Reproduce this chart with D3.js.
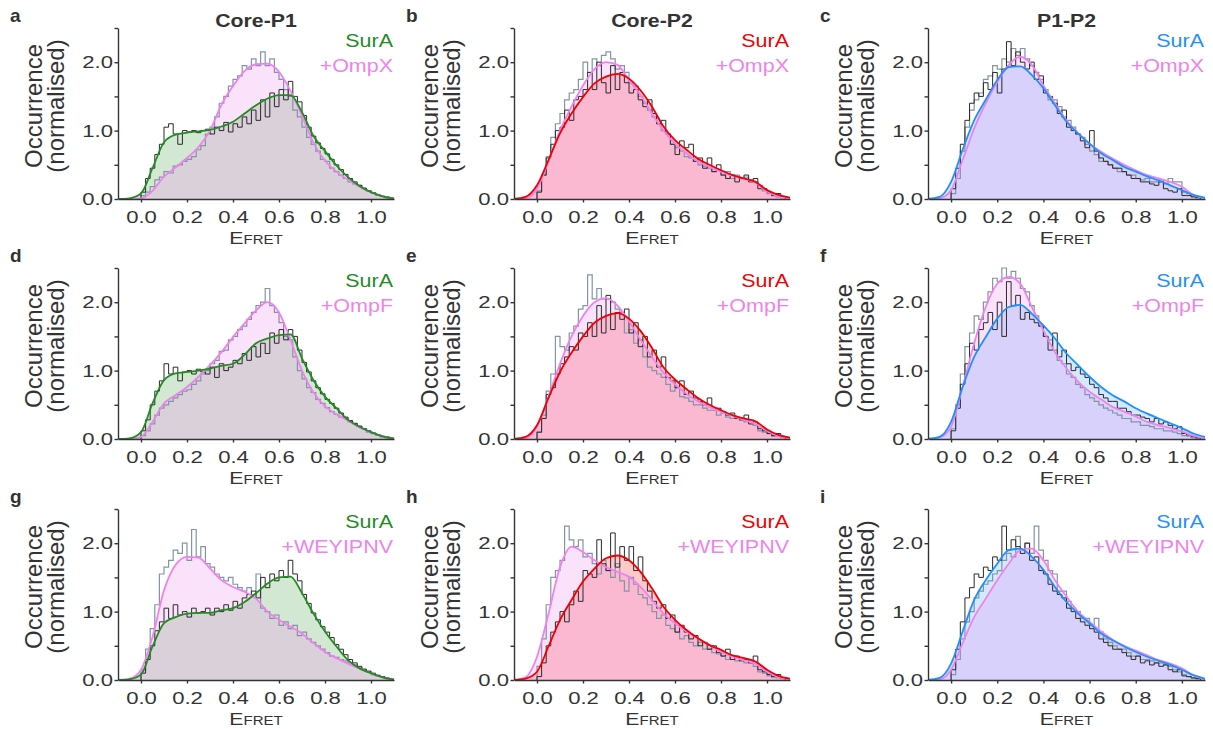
<!DOCTYPE html>
<html>
<head>
<meta charset="utf-8">
<script src="https://cdn.jsdelivr.net/npm/d3@7"></script>
<style>
  body { margin: 0; background: #fff; }
  svg { display: block; }
  text { font-family: "Liberation Sans", Arial, sans-serif; fill: #333; }
</style>
</head>
<body>
<svg width="1213" height="729"></svg>
<script>
// **** Data ****

var panelLetters = [['a', 'b', 'c'], ['d', 'e', 'f'], ['g', 'h', 'i']];
var columnTitles = ['Core-P1', 'Core-P2', 'P1-P2'];
var ligandNames = ['+OmpX', '+OmpF', '+WEYIPNV'];
var yTickValues = [0, 0.5, 1, 1.5, 2, 2.5];
var xTickValues = [0, 0.2, 0.4, 0.6, 0.8, 1.0];

// histogram bin edges (E_FRET)
var binEdges = [0.00, 0.02, 0.04, 0.06, 0.08, 0.10, 0.12, 0.14, 0.16, 0.18,
    0.20, 0.22, 0.24, 0.26, 0.28, 0.30, 0.32, 0.34, 0.36, 0.38,
    0.40, 0.42, 0.44, 0.46, 0.48, 0.50, 0.52, 0.54, 0.56, 0.58,
    0.60, 0.62, 0.64, 0.66, 0.68, 0.70, 0.72, 0.74, 0.76, 0.78,
    0.80, 0.82, 0.84, 0.86, 0.88, 0.90, 0.92, 0.94, 0.96, 0.98,
    1.00, 1.02, 1.04, 1.06, 1.08];

// x positions where the fitted curves were read
var fitX = [-0.1, -0.05, 0, 0.05, 0.1, 0.15, 0.2, 0.25, 0.3, 0.35, 0.4, 0.45, 0.5,
    0.55, 0.6, 0.65, 0.7, 0.75, 0.8, 0.85, 0.9, 0.95, 1.0, 1.05, 1.1];

// --- row 1 ---
var histA_sura = [0.1,0.3,0.45,0.65,0.8,1.05,1.1,0.95,0.8,1.0, 0.98,1.0,0.97,1.0,1.02,0.95,1.05,1.0,1.12,0.98, 1.1,1.05,1.2,1.1,1.3,1.15,1.45,1.2,1.55,1.35, 1.6,1.45,1.72,1.5,1.42,1.22,1.05,0.92,0.82,0.74, 0.66,0.58,0.5,0.43,0.36,0.3,0.25,0.2,0.16,0.12, 0.09,0.06,0.04,0.03];
var histA_lig = [0.05,0.1,0.18,0.28,0.32,0.4,0.38,0.48,0.5,0.55, 0.58,0.62,0.72,0.78,0.95,1.05,1.2,1.4,1.5,1.65, 1.75,1.8,1.95,1.9,2.05,1.95,2.15,1.95,2.05,1.85, 1.75,1.6,1.5,1.3,1.2,1.05,0.9,0.8,0.7,0.58, 0.55,0.45,0.4,0.35,0.3,0.25,0.22,0.2,0.15,0.12, 0.09,0.06,0.04,0.02];
var fitA_sura = [0,0.01,0.08,0.45,0.83,0.94,0.97,0.99,1.01,1.06,1.13,1.25,1.37,1.47,1.52,1.52,1.27,0.92,0.7,0.49,0.32,0.19,0.1,0.04,0.01];
var fitA_lig = [0,0,0.01,0.12,0.33,0.46,0.6,0.76,1.0,1.38,1.65,1.87,1.97,1.98,1.86,1.58,1.22,0.82,0.56,0.4,0.28,0.18,0.1,0.04,0.01];

var histB_sura = [0.1,0.35,0.6,0.8,1.0,1.05,1.3,1.15,1.45,1.5, 1.6,1.85,1.6,2.0,1.7,1.55,1.95,1.6,1.85,1.7, 1.55,1.6,1.45,1.35,1.45,1.25,1.1,1.15,0.95,0.8, 0.65,0.85,0.75,0.8,0.55,0.6,0.45,0.6,0.4,0.5, 0.35,0.3,0.35,0.25,0.3,0.35,0.25,0.3,0.15,0.15, 0.1,0.05,0.08,0.03];
var histB_lig = [0.12,0.35,0.62,0.9,1.1,1.25,1.45,1.55,1.6,1.75, 2.0,1.85,2.05,1.95,2.1,2.15,2.05,1.9,1.95,1.85, 1.7,1.65,1.5,1.4,1.3,1.2,1.1,1.0,0.95,0.8, 0.75,0.7,0.62,0.6,0.55,0.5,0.48,0.45,0.4,0.42, 0.35,0.4,0.3,0.35,0.3,0.32,0.28,0.25,0.2,0.12, 0.08,0.05,0.03,0.02];
var fitB_sura = [0,0.03,0.2,0.57,0.96,1.25,1.49,1.69,1.79,1.83,1.76,1.59,1.35,1.06,0.86,0.72,0.59,0.5,0.42,0.35,0.3,0.25,0.13,0.06,0.02];
var fitB_lig = [0,0.01,0.15,0.55,1.0,1.35,1.66,1.9,2.0,1.96,1.74,1.52,1.25,1.0,0.81,0.67,0.55,0.47,0.4,0.34,0.3,0.24,0.11,0.04,0.01];

var histC_sura = [0.15,0.45,0.8,1.15,1.4,1.55,1.5,1.7,1.6,1.85, 1.55,1.9,2.3,1.95,2.15,2.0,1.9,2.0,1.75,1.8, 1.55,1.5,1.4,1.25,1.3,1.05,1.0,0.95,0.85,0.75, 1.0,0.7,0.6,0.55,0.5,0.45,0.45,0.4,0.35,0.3, 0.3,0.25,0.25,0.22,0.2,0.25,0.15,0.12,0.1,0.15, 0.05,0.05,0.03,0.02];
var histC_lig = [0.08,0.3,0.7,1.05,1.3,1.45,1.55,1.75,1.8,1.95, 1.9,2.05,2.0,2.2,2.1,2.2,2.05,1.95,1.85,1.75, 1.6,1.45,1.45,1.35,1.2,1.15,1.05,0.95,0.9,0.8, 0.7,0.65,0.55,0.55,0.5,0.45,0.4,0.4,0.35,0.35, 0.3,0.28,0.3,0.25,0.25,0.28,0.22,0.3,0.25,0.25, 0.1,0.08,0.04,0.02];
var fitC_sura = [0,0.03,0.25,0.72,1.15,1.45,1.74,1.93,1.94,1.81,1.62,1.37,1.13,0.96,0.81,0.67,0.57,0.47,0.4,0.33,0.27,0.2,0.13,0.06,0.02];
var fitC_lig = [0,0.01,0.13,0.57,1.03,1.4,1.71,1.96,2.08,1.96,1.66,1.4,1.15,0.96,0.81,0.69,0.59,0.5,0.42,0.35,0.3,0.25,0.18,0.06,0.01];

// --- row 2 ---
var histD_sura = [0.12,0.28,0.5,0.7,0.85,1.1,0.95,1.05,0.85,0.98, 1.0,0.95,1.02,0.98,0.95,1.05,0.9,1.1,1.0,1.05, 1.15,1.1,1.25,1.15,1.35,1.2,1.4,1.25,1.55,1.4, 1.6,1.45,1.6,1.5,1.3,1.12,0.98,0.85,0.75,0.66, 0.58,0.52,0.45,0.38,0.32,0.27,0.23,0.19,0.15,0.12, 0.09,0.06,0.04,0.03];
var histD_lig = [0.05,0.12,0.22,0.35,0.45,0.5,0.55,0.6,0.65,0.7, 0.72,0.8,0.85,0.95,1.0,1.1,1.15,1.28,1.3,1.45, 1.5,1.6,1.65,1.75,1.85,1.95,2.0,2.2,1.95,1.85, 1.7,1.5,1.45,1.2,1.0,0.88,0.75,0.68,0.58,0.52, 0.46,0.4,0.36,0.32,0.3,0.25,0.22,0.18,0.15,0.1, 0.08,0.06,0.03,0.02];
var fitD_sura = [0,0.01,0.1,0.52,0.86,0.96,0.98,1.0,1.03,1.07,1.1,1.23,1.4,1.47,1.52,1.53,1.18,0.86,0.62,0.45,0.28,0.18,0.1,0.04,0.01];
var fitD_lig = [0,0,0.03,0.25,0.52,0.64,0.76,0.91,1.08,1.27,1.49,1.69,1.88,2.0,1.85,1.45,1.0,0.68,0.48,0.36,0.27,0.17,0.1,0.04,0.01];

var histE_sura = [0.1,0.3,0.65,0.75,0.95,1.1,1.2,1.35,1.3,1.55, 1.5,1.7,1.5,1.95,1.55,2.1,1.6,1.85,1.75,1.9, 1.55,1.7,1.35,1.5,1.2,1.3,1.05,1.2,0.9,0.85, 0.75,0.85,0.65,0.7,0.6,0.55,0.5,0.6,0.45,0.45, 0.4,0.35,0.38,0.3,0.28,0.35,0.22,0.25,0.15,0.12, 0.08,0.05,0.08,0.03];
var histE_lig = [0.1,0.35,0.7,0.95,1.5,1.35,1.3,1.55,1.65,1.9, 1.95,2.4,2.05,2.2,2.05,2.05,2.0,1.9,1.85,1.55, 1.6,1.4,1.45,1.2,1.05,1.0,0.95,0.9,0.8,0.7, 0.75,0.62,0.6,0.55,0.5,0.5,0.45,0.42,0.42,0.35, 0.38,0.32,0.3,0.3,0.28,0.25,0.28,0.2,0.12,0.1, 0.08,0.04,0.05,0.02];
var fitE_sura = [0,0.03,0.2,0.6,0.98,1.26,1.5,1.7,1.8,1.84,1.76,1.58,1.33,1.05,0.87,0.73,0.6,0.5,0.42,0.35,0.3,0.26,0.14,0.06,0.02];
var fitE_lig = [0,0.01,0.18,0.62,1.1,1.5,1.8,2.0,2.06,1.95,1.72,1.45,1.2,0.97,0.8,0.66,0.55,0.47,0.4,0.34,0.28,0.22,0.12,0.04,0.01];

var histF_sura = [0.12,0.45,0.8,1.1,1.4,1.3,1.6,1.7,1.85,1.6, 2.0,1.5,2.3,1.95,2.1,1.75,1.85,1.75,1.7,1.65, 1.5,1.3,1.55,1.2,1.3,1.1,1.0,1.05,0.95,0.9, 0.8,0.75,0.65,0.6,0.55,0.55,0.45,0.45,0.4,0.35, 0.35,0.32,0.3,0.25,0.3,0.22,0.25,0.2,0.15,0.18, 0.08,0.06,0.04,0.02];
var histF_lig = [0.15,0.5,0.95,1.35,1.55,1.8,1.75,2.0,2.15,2.35, 2.3,2.5,2.35,2.45,2.35,2.2,2.15,1.95,1.8,1.65, 1.5,1.45,1.3,1.15,1.1,0.95,0.9,0.8,0.75,0.65, 0.6,0.55,0.5,0.45,0.42,0.38,0.35,0.3,0.3,0.25, 0.25,0.2,0.2,0.18,0.15,0.15,0.12,0.12,0.1,0.08, 0.05,0.04,0.02,0.01];
var fitF_sura = [0,0.03,0.25,0.76,1.2,1.49,1.76,1.93,1.96,1.83,1.66,1.47,1.25,1.08,0.91,0.76,0.64,0.55,0.45,0.37,0.3,0.23,0.16,0.08,0.03];
var fitF_lig = [0,0.02,0.18,0.76,1.4,1.93,2.27,2.37,2.27,1.93,1.59,1.27,1.03,0.84,0.69,0.58,0.47,0.4,0.33,0.25,0.2,0.16,0.11,0.05,0.01];

// --- row 3 ---
var histG_sura = [0.1,0.3,0.5,0.72,0.85,1.05,0.9,1.1,0.95,1.0, 0.92,1.05,0.98,1.0,1.05,0.95,1.05,1.0,1.1,1.02, 1.15,1.05,1.2,1.25,1.3,1.2,1.5,1.35,1.55,1.45, 1.6,1.5,1.75,1.55,1.45,1.25,1.12,0.98,0.88,0.78, 0.7,0.62,0.52,0.45,0.37,0.3,0.25,0.2,0.16,0.13, 0.1,0.07,0.05,0.03];
var histG_lig = [0.15,0.45,0.75,1.1,1.55,1.65,1.75,1.9,1.85,2.0, 1.75,2.2,1.8,1.95,1.7,1.65,1.55,1.5,1.45,1.5, 1.4,1.35,1.3,1.35,1.25,1.55,1.05,1.0,0.9,0.95, 0.8,0.85,0.75,0.8,0.65,0.7,0.6,0.55,0.5,0.45, 0.4,0.35,0.33,0.3,0.28,0.25,0.22,0.18,0.15,0.12, 0.08,0.06,0.04,0.02];
var fitG_sura = [0,0.01,0.08,0.49,0.83,0.92,0.97,0.98,0.98,1.02,1.05,1.14,1.27,1.41,1.5,1.51,1.27,0.97,0.71,0.49,0.29,0.17,0.1,0.04,0.01];
var fitG_lig = [0,0.02,0.15,0.63,1.31,1.68,1.8,1.79,1.63,1.46,1.36,1.29,1.19,1.0,0.88,0.78,0.68,0.54,0.41,0.32,0.24,0.17,0.1,0.04,0.01];

var histH_sura = [0.05,0.25,0.5,0.7,0.85,1.0,0.85,1.1,1.3,1.15, 1.6,1.55,1.5,2.05,1.7,1.6,2.15,1.65,1.95,1.75, 1.95,1.6,1.8,1.45,1.3,1.15,1.05,1.1,0.9,0.95, 0.7,0.8,0.7,0.6,0.65,0.5,0.55,0.45,0.5,0.4, 0.35,0.45,0.3,0.35,0.28,0.3,0.25,0.35,0.15,0.12, 0.08,0.05,0.08,0.03];
var histH_lig = [0.2,0.6,1.1,1.5,1.6,1.75,2.25,2.05,1.95,2.05, 1.8,1.85,1.7,1.55,1.75,1.6,1.5,1.7,1.45,1.3, 1.5,1.4,1.25,1.2,1.1,1.0,0.9,0.95,0.8,0.75, 0.7,0.6,0.65,0.55,0.5,0.55,0.45,0.45,0.4,0.38, 0.35,0.3,0.35,0.28,0.3,0.25,0.28,0.2,0.12,0.1, 0.06,0.04,0.03,0.02];
var fitH_sura = [0,0.02,0.12,0.49,0.88,1.17,1.44,1.63,1.78,1.82,1.75,1.58,1.34,1.07,0.88,0.73,0.61,0.51,0.44,0.36,0.32,0.27,0.15,0.06,0.02];
var fitH_lig = [0,0.04,0.34,0.97,1.65,1.95,1.87,1.75,1.65,1.58,1.51,1.36,1.17,0.97,0.83,0.71,0.61,0.51,0.41,0.34,0.29,0.24,0.12,0.04,0.01];

var histI_sura = [0.15,0.45,0.85,1.2,1.35,1.55,1.5,1.65,1.6,1.8, 1.75,2.25,1.9,2.05,1.95,1.85,2.0,1.75,1.8,1.6, 1.55,1.4,1.3,1.25,1.2,1.05,1.0,0.9,0.85,0.8, 0.75,0.7,0.6,0.55,0.5,0.45,0.45,0.4,0.35,0.3, 0.35,0.25,0.28,0.22,0.25,0.2,0.22,0.15,0.12,0.15, 0.06,0.05,0.03,0.02];
var histI_lig = [0.08,0.3,0.6,0.85,1.0,1.2,1.3,1.4,1.45,1.55, 1.6,1.75,1.85,1.8,2.1,1.9,2.0,1.85,2.25,1.9, 1.75,1.6,1.55,1.3,1.3,1.15,1.05,1.0,0.9,0.9, 0.8,0.9,0.7,0.6,0.55,0.5,0.45,0.45,0.4,0.35, 0.35,0.3,0.3,0.28,0.25,0.25,0.22,0.2,0.15,0.12, 0.08,0.05,0.03,0.02];
var fitI_sura = [0,0.03,0.24,0.71,1.17,1.46,1.7,1.9,1.92,1.8,1.61,1.36,1.14,0.97,0.83,0.68,0.58,0.49,0.41,0.34,0.28,0.22,0.15,0.07,0.02];
var fitI_lig = [0,0.01,0.15,0.54,0.92,1.19,1.46,1.7,1.9,1.92,1.75,1.46,1.22,1.0,0.85,0.71,0.59,0.5,0.43,0.36,0.29,0.24,0.17,0.07,0.01];

var surHists = [[histA_sura, histB_sura, histC_sura], [histD_sura, histE_sura, histF_sura], [histG_sura, histH_sura, histI_sura]];
var ligHists = [[histA_lig, histB_lig, histC_lig], [histD_lig, histE_lig, histF_lig], [histG_lig, histH_lig, histI_lig]];
var surFits = [[fitA_sura, fitB_sura, fitC_sura], [fitD_sura, fitE_sura, fitF_sura], [fitG_sura, fitH_sura, fitI_sura]];
var ligFits = [[fitA_lig, fitB_lig, fitC_lig], [fitD_lig, fitE_lig, fitF_lig], [fitG_lig, fitH_lig, fitI_lig]];

// **** Layout and styles ****

var colLeft = [118, 514, 928];
var colRight = [394, 790, 1205];
var rowZero = [199, 439, 680];
var plotH = 171;

var surColors = ['#228b22', '#f00000', '#1e90ff'];
var surFills = ['rgba(34,139,34,0.2)', 'rgba(255,0,0,0.21)', 'rgba(30,144,255,0.2)'];
var ligColor = '#ee82ee';
var ligFill = 'rgba(238,130,238,0.23)';

var svg = d3.select('svg');

for (var r = 0; r < 3; r++) {
    for (var c = 0; c < 3; c++) {
        drawPanel(r, c);
    }
}

function drawPanel(r, c) {
    var x = d3.scaleLinear().domain([-0.1, 1.1]).range([colLeft[c], colRight[c]]);
    var y = d3.scaleLinear().domain([0, 2.5]).range([rowZero[r], rowZero[r] - plotH]);
    var id = 'clip-' + panelLetters[r][c];

    svg.append('clipPath').attr('id', id)
        .append('rect')
        .attr('x', colLeft[c]).attr('y', rowZero[r] - plotH - 5)
        .attr('width', colRight[c] - colLeft[c]).attr('height', plotH + 5);

    var g = svg.append('g').attr('clip-path', 'url(#' + id + ')');

    var fitPts = function (vals) { return fitX.map(function (v, i) { return [v, vals[i]]; }); };

    var area = d3.area()
        .x(function (d) { return x(d[0]); })
        .y0(y(0))
        .y1(function (d) { return y(d[1]); })
        .curve(d3.curveMonotoneX);
    var line = d3.line()
        .x(function (d) { return x(d[0]); })
        .y(function (d) { return y(d[1]); })
        .curve(d3.curveMonotoneX);

    // filled areas under the fits
    g.append('path').attr('d', area(fitPts(surFits[r][c]))).attr('fill', surFills[c]);
    g.append('path').attr('d', area(fitPts(ligFits[r][c]))).attr('fill', ligFill);

    // histograms as step outlines
    var stepLine = d3.line()
        .x(function (d) { return x(d[0]); })
        .y(function (d) { return y(d[1]); })
        .curve(d3.curveStepAfter);
    var histPts = function (vals) {
        var pts = [[binEdges[0], 0]];
        vals.forEach(function (v, i) { pts.push([binEdges[i], v]); });
        pts.push([binEdges[vals.length], vals[vals.length - 1]]);
        pts.push([binEdges[vals.length], 0]);
        return pts;
    };
    g.append('path').attr('d', stepLine(histPts(ligHists[r][c])))
        .attr('fill', 'none').attr('stroke', '#8494a6').attr('stroke-width', 1.2);
    g.append('path').attr('d', stepLine(histPts(surHists[r][c])))
        .attr('fill', 'none').attr('stroke', '#2a2a2a').attr('stroke-width', 1);

    // fitted curves
    g.append('path').attr('d', line(fitPts(ligFits[r][c])))
        .attr('fill', 'none').attr('stroke', ligColor).attr('stroke-width', 1.8);
    g.append('path').attr('d', line(fitPts(surFits[r][c])))
        .attr('fill', 'none').attr('stroke', surColors[c]).attr('stroke-width', 1.8);

    // axes
    var yAxis = svg.append('g')
        .attr('transform', 'translate(' + colLeft[c] + ',0)')
        .call(d3.axisLeft(y).tickValues(yTickValues).tickSize(3.5).tickSizeOuter(0)
            .tickFormat(function (d) { return d % 1 === 0 ? d3.format('.1f')(d) : ''; }));
    yAxis.selectAll('text').attr('x', -3.9).attr('transform', 'scale(1.3,1)');

    var xAxis = svg.append('g')
        .attr('transform', 'translate(0,' + rowZero[r] + ')')
        .call(d3.axisBottom(x).tickValues(xTickValues).tickSize(3.5).tickSizeOuter(0).tickPadding(8.5)
            .tickFormat(d3.format('.1f')));
    xAxis.selectAll('text').attr('transform', 'scale(1.3,1)');

    [yAxis, xAxis].forEach(function (ax) {
        ax.selectAll('path, line').attr('stroke', '#333').attr('stroke-width', 1.4);
        ax.selectAll('text').style('font-size', '17px').style('fill', '#333')
            .style('font-family', '"Liberation Sans", Arial, sans-serif');
    });

    var cx = (colLeft[c] + colRight[c]) / 2;

    // y label
    svg.append('text')
        .attr('transform', 'translate(' + (colLeft[c] - 76) + ',' + (rowZero[r] - 93) + ') rotate(-90)')
        .attr('text-anchor', 'middle')
        .style('font-size', '24px')
        .text('Occurrence');
    svg.append('text')
        .attr('transform', 'translate(' + (colLeft[c] - 54) + ',' + (rowZero[r] - 93) + ') rotate(-90)')
        .attr('text-anchor', 'middle')
        .style('font-size', '24px')
        .text('(normalised)');

    // x label E_FRET
    var xl = svg.append('text')
        .attr('transform', 'translate(' + cx + ',' + (rowZero[r] + 45) + ') scale(1.25,1)')
        .attr('text-anchor', 'middle');
    xl.append('tspan').style('font-size', '17px').text('E');
    xl.append('tspan').style('font-size', '12px').text('FRET');

    // legend
    svg.append('text')
        .attr('transform', 'translate(' + (colRight[c] - 1) + ',' + (rowZero[r] - 152) + ') scale(1.13,1)')
        .attr('text-anchor', 'end')
        .style('font-size', '19px')
        .style('fill', surColors[c])
        .text('SurA');
    svg.append('text')
        .attr('transform', 'translate(' + (colRight[c] - 1) + ',' + (rowZero[r] - 127) + ') scale(1.13,1)')
        .attr('text-anchor', 'end')
        .style('font-size', '19px')
        .style('fill', ligColor)
        .text(ligandNames[r]);

    // panel letter
    svg.append('text')
        .attr('x', colLeft[c] - 108).attr('y', rowZero[r] - 177)
        .style('font-size', '19px').style('font-weight', 'bold')
        .text(panelLetters[r][c]);

    // column title
    if (r === 0) {
        svg.append('text')
            .attr('transform', 'translate(' + cx + ',27) scale(1.12,1)')
            .attr('text-anchor', 'middle')
            .style('font-size', '19px').style('font-weight', 'bold')
            .text(columnTitles[c]);
    }
}
</script>
</body>
</html>
